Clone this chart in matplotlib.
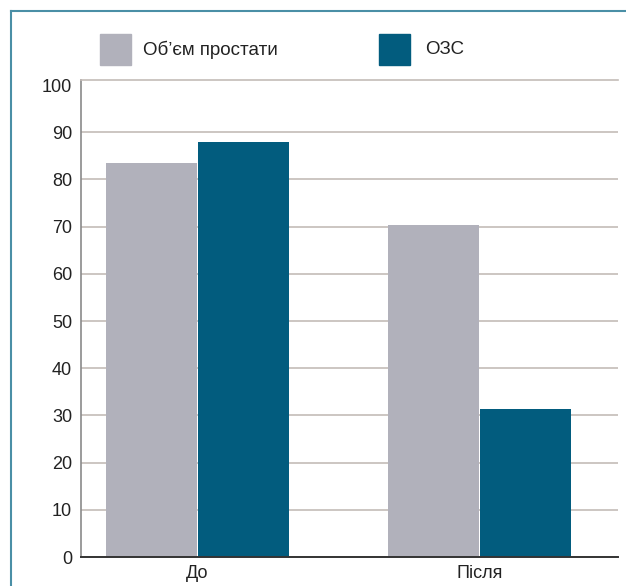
import matplotlib.pyplot as plt
import matplotlib.patches as mpatches
import numpy as np

plt.rcParams['font.family'] = ['Liberation Sans', 'DejaVu Sans']

groups = ['До', 'Після']
series_names = ['Об’єм простати', 'ОЗС']
volume = [83.5, 70.4]
ozs = [88.0, 31.4]
colors = ['#b1b1bb', '#025c7e']
yticks = [0, 10, 20, 30, 40, 50, 60, 70, 80, 90, 100]

fig = plt.figure(figsize=(6.26, 5.86), dpi=100)
W, H = 626, 586
# box top sits a little above the 100 level
ax = fig.add_axes([81 / W, 1 - 557 / H, (618 - 81) / W, (557 - 80) / H])

x = np.arange(len(groups))
bw = 0.3227
ax.bar(x - bw / 2 - 0.002, volume, width=bw, color=colors[0], zorder=3, linewidth=0)
ax.bar(x + bw / 2 + 0.002, ozs, width=bw, color=colors[1], zorder=3, linewidth=0)

ax.set_xlim(-0.413, 1.491)
ax.set_ylim(0, 100 * 477 / 472)
ax.set_yticks(yticks)
ax.set_xticks(x)
ax.set_xticklabels(groups)
ax.tick_params(axis='both', length=0, labelsize=13, colors='#222222')
ax.tick_params(axis='y', pad=6.5)
ax.tick_params(axis='x', pad=6)
ax.yaxis.grid(True, color='#c4bcb8', linewidth=1.2, zorder=0)
ax.get_ygridlines()[-1].set_visible(False)
ax.set_axisbelow(True)
ax.spines['right'].set_visible(False)
ax.spines['top'].set_color('#c4bcb8')
ax.spines['top'].set_linewidth(1.2)
ax.spines['left'].set_color('#8a8a8a')
ax.spines['left'].set_linewidth(1.2)
ax.spines['bottom'].set_color('#333333')
ax.spines['bottom'].set_linewidth(1.4)
ax.spines['bottom'].set_zorder(4)

# legend drawn as figure patches
fig.patches.append(mpatches.Rectangle((100 / W, 1 - 65 / H), 31 / W, 31 / H,
                                      transform=fig.transFigure, color=colors[0]))
fig.patches.append(mpatches.Rectangle((379 / W, 1 - 65 / H), 31 / W, 31 / H,
                                      transform=fig.transFigure, color=colors[1]))
fig.text(143 / W, 1 - 50 / H, series_names[0], fontsize=13.5, va='center', color='#222222')
fig.text(425 / W, 1 - 50 / H, series_names[1], fontsize=13.5, va='center', color='#222222')

# outer frame (left and top edges)
fig.add_artist(plt.Line2D([11 / W, 11 / W], [0, 1 - 11 / H], transform=fig.transFigure,
                          color='#4a8fa6', linewidth=1.5))
fig.add_artist(plt.Line2D([11 / W, 1], [1 - 11 / H, 1 - 11 / H], transform=fig.transFigure,
                          color='#4a8fa6', linewidth=1.5))

plt.savefig('out.png', dpi=100)
